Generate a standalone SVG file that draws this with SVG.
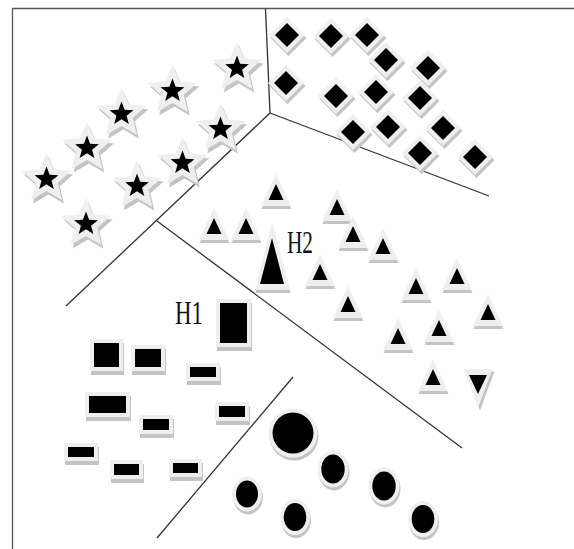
<svg xmlns="http://www.w3.org/2000/svg" xmlns:xlink="http://www.w3.org/1999/xlink" width="574" height="549" viewBox="0 0 574 549">
<style>
.sh{fill:#c4c4c4}
.ha{fill:#efefef}
.bk{fill:#000}
.ln{fill:none;stroke:#333;stroke-width:1.3}
.fr{fill:none;stroke:#555;stroke-width:1.3}
.lbl{font-family:"Liberation Serif","Times New Roman",serif;fill:#111}
</style>
<defs>
<path id="starHaP" d="M0,-26 L7.05,-9.71 L24.73,-8.03 L11.41,3.71 L15.28,21.03 L0,12 L-15.28,21.03 L-11.41,3.71 L-24.73,-8.03 L-7.05,-9.71 Z"/>
<g id="star">
<use xlink:href="#starHaP" class="sh" transform="translate(2,3.5)"/>
<use xlink:href="#starHaP" class="ha"/>
<path class="bk" d="M0,-12.5 L3.12,-4.29 L11.89,-3.86 L5.04,1.64 L7.35,10.11 L0,5.3 L-7.35,10.11 L-5.04,1.64 L-11.89,-3.86 L-3.12,-4.29 Z"/>
</g>
<path id="diaHaP" d="M0,-18 L18,0 L0,18 L-18,0 Z"/>
<g id="dia">
<use xlink:href="#diaHaP" class="sh" transform="translate(1.5,3)"/>
<use xlink:href="#diaHaP" class="ha"/>
<path class="bk" d="M0,-12 L12,0 L0,12 L-12,0 Z"/>
</g>
<path id="triHaP" d="M0,-19 L15,13 L-15,13 Z"/>
<g id="tri">
<use xlink:href="#triHaP" class="sh" transform="translate(0.5,3)"/>
<use xlink:href="#triHaP" class="ha"/>
<path class="bk" d="M0,-9 L7.5,7 L-7.5,7 Z"/>
</g>
</defs>

<g id="frame"><path class="fr" d="M12.5,549 V8.5 H574"/></g>

<g id="connectors">
<path class="ln" d="M265.5,9 L270,113"/>
<path class="ln" d="M270,113 L66,306"/>
<path class="ln" d="M270,113 L489,196"/>
<path class="ln" d="M157,221 L462,448"/>
<path class="ln" d="M157,538 L293,377"/>
</g>

<g id="star1"><use xlink:href="#star" x="46.5" y="179"/></g>
<g id="star2"><use xlink:href="#star" x="87" y="148"/></g>
<g id="star3"><use xlink:href="#star" x="121.5" y="114"/></g>
<g id="star4"><use xlink:href="#star" x="172.5" y="91"/></g>
<g id="star5"><use xlink:href="#star" x="237" y="68"/></g>
<g id="star6"><use xlink:href="#star" x="220.5" y="129"/></g>
<g id="star7"><use xlink:href="#star" x="182.5" y="163"/></g>
<g id="star8"><use xlink:href="#star" x="137" y="186"/></g>
<g id="star9"><use xlink:href="#star" x="86" y="224"/></g>

<g id="dia1"><use xlink:href="#dia" x="287" y="35"/></g>
<g id="dia2"><use xlink:href="#dia" x="331" y="36"/></g>
<g id="dia3"><use xlink:href="#dia" x="367" y="35"/></g>
<g id="dia4"><use xlink:href="#dia" x="386" y="60"/></g>
<g id="dia5"><use xlink:href="#dia" x="428" y="68"/></g>
<g id="dia6"><use xlink:href="#dia" x="286" y="83"/></g>
<g id="dia7"><use xlink:href="#dia" x="336" y="96"/></g>
<g id="dia8"><use xlink:href="#dia" x="376" y="92"/></g>
<g id="dia9"><use xlink:href="#dia" x="420" y="98"/></g>
<g id="dia10"><use xlink:href="#dia" x="353" y="132"/></g>
<g id="dia11"><use xlink:href="#dia" x="388" y="127"/></g>
<g id="dia12"><use xlink:href="#dia" x="443" y="128"/></g>
<g id="dia13"><use xlink:href="#dia" x="420" y="153"/></g>
<g id="dia14"><use xlink:href="#dia" x="475" y="157"/></g>

<g id="tri1"><use xlink:href="#tri" x="276" y="193"/></g>
<g id="tri2"><use xlink:href="#tri" x="214" y="227"/></g>
<g id="tri3"><use xlink:href="#tri" x="246" y="227"/></g>
<g id="tri4"><use xlink:href="#tri" x="337" y="208"/></g>
<g id="tri5"><use xlink:href="#tri" x="353" y="235"/></g>
<g id="tri6"><use xlink:href="#tri" x="383" y="247"/></g>
<g id="tri7"><use xlink:href="#tri" x="320" y="273"/></g>
<g id="tri8"><use xlink:href="#tri" x="348" y="305"/></g>
<g id="tri9"><use xlink:href="#tri" x="416" y="287"/></g>
<g id="tri10"><use xlink:href="#tri" x="457" y="277"/></g>
<g id="tri11"><use xlink:href="#tri" x="488" y="313"/></g>
<g id="tri12"><use xlink:href="#tri" x="398" y="337"/></g>
<g id="tri13"><use xlink:href="#tri" x="439" y="329"/></g>
<g id="tri14"><use xlink:href="#tri" x="433" y="378"/></g>
<g id="tri15">
<path class="sh" d="M464.5,370 L493.5,370 L479,409 Z" transform="translate(1,1.5)"/>
<path class="ha" d="M463.5,369 L492.5,369 L478,408 Z"/>
<path class="bk" d="M469,375 L487,375 L478,394 Z"/>
</g>
<g id="triBig">
<path class="sh" d="M272,222 L290,290 L255,290 Z" transform="translate(0.5,3)"/>
<path class="ha" d="M272,222 L290,290 L255,290 Z"/>
<path class="bk" d="M272,238 L284,284 L260,284 Z"/>
</g>

<g id="rect1"><rect class="sh" x="217" y="303" width="35" height="48"/><rect class="ha" x="216" y="299" width="35" height="48"/><rect class="bk" x="220" y="303" width="27" height="40"/></g>
<g id="rect2"><rect class="sh" x="91" y="343" width="33" height="32"/><rect class="ha" x="90" y="339" width="33" height="32"/><rect class="bk" x="94" y="343" width="25" height="24"/></g>
<g id="rect3"><rect class="sh" x="132" y="349" width="34" height="26"/><rect class="ha" x="131" y="345" width="34" height="26"/><rect class="bk" x="135" y="349" width="26" height="18"/></g>
<g id="rect4"><rect class="sh" x="187" y="367" width="34" height="18"/><rect class="ha" x="186" y="363" width="34" height="18"/><rect class="bk" x="190" y="367" width="26" height="10"/></g>
<g id="rect5"><rect class="sh" x="86" y="396" width="45" height="25"/><rect class="ha" x="85" y="392" width="45" height="25"/><rect class="bk" x="89" y="396" width="37" height="17"/></g>
<g id="rect6"><rect class="sh" x="140" y="419" width="34" height="19"/><rect class="ha" x="139" y="415" width="34" height="19"/><rect class="bk" x="143" y="419" width="26" height="11"/></g>
<g id="rect7"><rect class="sh" x="216" y="406" width="34" height="19"/><rect class="ha" x="215" y="402" width="34" height="19"/><rect class="bk" x="219" y="406" width="26" height="11"/></g>
<g id="rect8"><rect class="sh" x="65" y="447" width="34" height="18"/><rect class="ha" x="64" y="443" width="34" height="18"/><rect class="bk" x="68" y="447" width="26" height="10"/></g>
<g id="rect9"><rect class="sh" x="111" y="464" width="33" height="19"/><rect class="ha" x="110" y="460" width="33" height="19"/><rect class="bk" x="114" y="464" width="25" height="11"/></g>
<g id="rect10"><rect class="sh" x="170" y="463" width="33" height="18"/><rect class="ha" x="169" y="459" width="33" height="18"/><rect class="bk" x="173" y="463" width="25" height="10"/></g>

<g id="circ1"><circle class="sh" cx="294" cy="436" r="24.5"/><circle class="ha" cx="293" cy="433" r="24.5"/><circle class="bk" cx="293" cy="433" r="20.5"/></g>
<g id="circ2"><ellipse class="sh" cx="334" cy="472" rx="15.5" ry="18.5"/><ellipse class="ha" cx="333" cy="469" rx="15.5" ry="18.5"/><ellipse class="bk" cx="333" cy="469" rx="11.7" ry="14.5"/></g>
<g id="circ3"><ellipse class="sh" cx="385" cy="489" rx="15.5" ry="18.5"/><ellipse class="ha" cx="384" cy="486" rx="15.5" ry="18.5"/><ellipse class="bk" cx="384" cy="486" rx="11.7" ry="14.5"/></g>
<g id="circ4"><ellipse class="sh" cx="296" cy="520" rx="15" ry="18"/><ellipse class="ha" cx="295" cy="517" rx="15" ry="18"/><ellipse class="bk" cx="295" cy="517" rx="11.3" ry="14"/></g>
<g id="circ5"><ellipse class="sh" cx="424" cy="522" rx="15" ry="18"/><ellipse class="ha" cx="423" cy="519" rx="15" ry="18"/><ellipse class="bk" cx="423" cy="519" rx="11.3" ry="14"/></g>
<g id="circ6"><ellipse class="sh" cx="248" cy="497" rx="14.8" ry="17.5"/><ellipse class="ha" cx="247" cy="494" rx="14.8" ry="17.5"/><ellipse class="bk" cx="247" cy="494" rx="11" ry="13.5"/></g>

<g id="labels">
<text class="lbl" x="175" y="324" font-size="34" textLength="28" lengthAdjust="spacingAndGlyphs">H1</text>
<text class="lbl" x="287" y="253" font-size="31" textLength="26" lengthAdjust="spacingAndGlyphs">H2</text>
</g>
</svg>
